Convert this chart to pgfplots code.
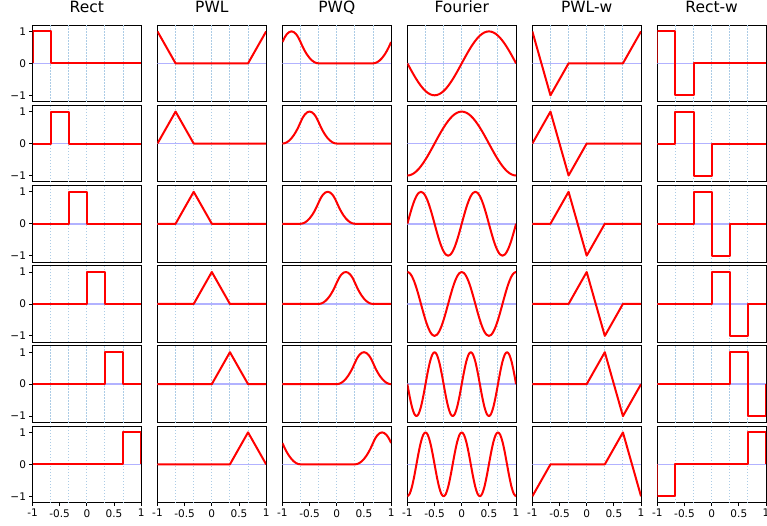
\documentclass[border=0pt]{standalone}
\usepackage{fontspec}
\setmainfont{DejaVu Sans}
\usepackage{pgfplots}
\usepackage{pgfplotstable}
\pgfplotsset{compat=1.18}
\usepgfplotslibrary{groupplots}
\definecolor{zlc}{RGB}{178,178,255}
\definecolor{grc}{RGB}{172,204,230}

\pgfplotstableread{
x f0 f1 f2 f3 f4 f5
-1 0 -1 0 1 0 -1
-0.9583 -.1305 -.9914 .2588 .9659 -.3827 -.9239
-0.9167 -.2588 -.9659 .5 .866 -.7071 -.7071
-0.875 -.3827 -.9239 .7071 .7071 -.9239 -.3827
-0.8333 -.5 -.866 .866 .5 -1 0
-0.7917 -.6088 -.7934 .9659 .2588 -.9239 .3827
-0.75 -.7071 -.7071 1 0 -.7071 .7071
-0.7083 -.7934 -.6088 .9659 -.2588 -.3827 .9239
-0.6667 -.866 -.5 .866 -.5 0 1
-0.625 -.9239 -.3827 .7071 -.7071 .3827 .9239
-0.5833 -.9659 -.2588 .5 -.866 .7071 .7071
-0.5417 -.9914 -.1305 .2588 -.9659 .9239 .3827
-0.5 -1 0 0 -1 1 0
-0.4583 -.9914 .1305 -.2588 -.9659 .9239 -.3827
-0.4167 -.9659 .2588 -.5 -.866 .7071 -.7071
-0.375 -.9239 .3827 -.7071 -.7071 .3827 -.9239
-0.3333 -.866 .5 -.866 -.5 0 -1
-0.2917 -.7934 .6088 -.9659 -.2588 -.3827 -.9239
-0.25 -.7071 .7071 -1 0 -.7071 -.7071
-0.2083 -.6088 .7934 -.9659 .2588 -.9239 -.3827
-0.1667 -.5 .866 -.866 .5 -1 0
-0.125 -.3827 .9239 -.7071 .7071 -.9239 .3827
-0.0833 -.2588 .9659 -.5 .866 -.7071 .7071
-0.0417 -.1305 .9914 -.2588 .9659 -.3827 .9239
0 0 1 0 1 0 1
0.0417 .1305 .9914 .2588 .9659 .3827 .9239
0.0833 .2588 .9659 .5 .866 .7071 .7071
0.125 .3827 .9239 .7071 .7071 .9239 .3827
0.1667 .5 .866 .866 .5 1 0
0.2083 .6088 .7934 .9659 .2588 .9239 -.3827
0.25 .7071 .7071 1 0 .7071 -.7071
0.2917 .7934 .6088 .9659 -.2588 .3827 -.9239
0.3333 .866 .5 .866 -.5 0 -1
0.375 .9239 .3827 .7071 -.7071 -.3827 -.9239
0.4167 .9659 .2588 .5 -.866 -.7071 -.7071
0.4583 .9914 .1305 .2588 -.9659 -.9239 -.3827
0.5 1 0 0 -1 -1 0
0.5417 .9914 -.1305 -.2588 -.9659 -.9239 .3827
0.5833 .9659 -.2588 -.5 -.866 -.7071 .7071
0.625 .9239 -.3827 -.7071 -.7071 -.3827 .9239
0.6667 .866 -.5 -.866 -.5 0 1
0.7083 .7934 -.6088 -.9659 -.2588 .3827 .9239
0.75 .7071 -.7071 -1 0 .7071 .7071
0.7917 .6088 -.7934 -.9659 .2588 .9239 .3827
0.8333 .5 -.866 -.866 .5 1 0
0.875 .3827 -.9239 -.7071 .7071 .9239 -.3827
0.9167 .2588 -.9659 -.5 .866 .7071 -.7071
0.9583 .1305 -.9914 -.2588 .9659 .3827 -.9239
1 0 -1 0 1 0 -1
}\fourier

\pgfplotstableread{
x q0 q1 q2 q3 q4 q5
-1 .6667 0 0 0 0 .6667
-0.9583 .8125 .0104 0 0 0 .5104
-0.9167 .9167 .0417 0 0 0 .375
-0.875 .9792 .0938 0 0 0 .2604
-0.8333 1 .1667 0 0 0 .1667
-0.7917 .9792 .2604 0 0 0 .0938
-0.75 .9167 .375 0 0 0 .0417
-0.7083 .8125 .5104 0 0 0 .0104
-0.6667 .6667 .6667 0 0 0 0
-0.625 .5104 .8125 .0104 0 0 0
-0.5833 .375 .9167 .0417 0 0 0
-0.5417 .2604 .9792 .0938 0 0 0
-0.5 .1667 1 .1667 0 0 0
-0.4583 .0938 .9792 .2604 0 0 0
-0.4167 .0417 .9167 .375 0 0 0
-0.375 .0104 .8125 .5104 0 0 0
-0.3333 0 .6667 .6667 0 0 0
-0.2917 0 .5104 .8125 .0104 0 0
-0.25 0 .375 .9167 .0417 0 0
-0.2083 0 .2604 .9792 .0938 0 0
-0.1667 0 .1667 1 .1667 0 0
-0.125 0 .0938 .9792 .2604 0 0
-0.0833 0 .0417 .9167 .375 0 0
-0.0417 0 .0104 .8125 .5104 0 0
0 0 0 .6667 .6667 0 0
0.0417 0 0 .5104 .8125 .0104 0
0.0833 0 0 .375 .9167 .0417 0
0.125 0 0 .2604 .9792 .0938 0
0.1667 0 0 .1667 1 .1667 0
0.2083 0 0 .0938 .9792 .2604 0
0.25 0 0 .0417 .9167 .375 0
0.2917 0 0 .0104 .8125 .5104 0
0.3333 0 0 0 .6667 .6667 0
0.375 0 0 0 .5104 .8125 .0104
0.4167 0 0 0 .375 .9167 .0417
0.4583 0 0 0 .2604 .9792 .0938
0.5 0 0 0 .1667 1 .1667
0.5417 0 0 0 .0938 .9792 .2604
0.5833 0 0 0 .0417 .9167 .375
0.625 0 0 0 .0104 .8125 .5104
0.6667 0 0 0 0 .6667 .6667
0.7083 .0104 0 0 0 .5104 .8125
0.75 .0417 0 0 0 .375 .9167
0.7917 .0938 0 0 0 .2604 .9792
0.8333 .1667 0 0 0 .1667 1
0.875 .2604 0 0 0 .0938 .9792
0.9167 .375 0 0 0 .0417 .9167
0.9583 .5104 0 0 0 .0104 .8125
1 .6667 0 0 0 0 .6667
}\pwq

\pgfplotsset{
  zline/.style={color=zlc, line width=1.6pt, forget plot},
  redline/.style={draw=red, line width=2pt, solid, line join=round},
  lft/.style={ytick={-1,0,1}, yticklabels={−1,0,1}},
  bot/.style={xtick={-1,-0.5,0,0.5,1}, xticklabels={-1,-0.5,0,0.5,1}},
}
\newcommand\zeroline{\addplot[zline] coordinates {(-1,0) (1,0)};}

\begin{document}
\begin{tikzpicture}
\begin{groupplot}[
  group style={group name=G, group size=6 by 6, horizontal sep=16.26pt, vertical sep=3.5pt},
  scale only axis, width=108.7pt, height=76.7pt,
  xmin=-1, xmax=1, ymin=-1.2, ymax=1.2,
  xtick=\empty, ytick=\empty, tick pos=left,
  extra x ticks={-0.6667,-0.3333,0,0.3333,0.6667},
  extra x tick labels={,,,,},
  extra x tick style={grid=major, major tick length=0pt},
  major grid style={color=grc, line width=1pt, dash pattern=on 1.2pt off 1.8pt},
  tick align=outside, major tick length=3pt,
  tick style={black, line width=0.9pt},
  axis line style={line width=0.9pt},
  ticklabel style={font=\fontsize{10.5}{12}\selectfont},
  title style={font=\fontsize{15.5}{18}\selectfont, anchor=base, yshift=6pt},
]
% ---- row 1
\nextgroupplot[title=Rect, lft]
\zeroline \addplot[redline] coordinates {(-1,0) (-1,1) (-0.6667,1) (-0.6667,0) (1,0)};
\nextgroupplot[title=PWL]
\zeroline \addplot[redline] coordinates {(-1,1) (-0.6667,0) (0.6667,0) (1,1)};
\nextgroupplot[title=PWQ]
\zeroline \addplot[redline, smooth] table[x=x,y=q0]{\pwq};
\nextgroupplot[title=Fourier]
\zeroline \addplot[redline, smooth] table[x=x,y=f0]{\fourier};
\nextgroupplot[title=PWL-w]
\zeroline \addplot[redline] coordinates {(-1,1) (-0.6667,-1) (-0.3333,0) (0.6667,0) (1,1)};
\nextgroupplot[title=Rect-w]
\zeroline \addplot[redline] coordinates {(-1,0) (-1,1) (-0.6667,1) (-0.6667,-1) (-0.3333,-1) (-0.3333,0) (1,0)};
% ---- row 2
\nextgroupplot[lft]
\zeroline \addplot[redline] coordinates {(-1,0) (-0.6667,0) (-0.6667,1) (-0.3333,1) (-0.3333,0) (1,0)};
\nextgroupplot
\zeroline \addplot[redline] coordinates {(-1,0) (-0.6667,1) (-0.3333,0) (1,0)};
\nextgroupplot
\zeroline \addplot[redline, smooth] table[x=x,y=q1]{\pwq};
\nextgroupplot
\zeroline \addplot[redline, smooth] table[x=x,y=f1]{\fourier};
\nextgroupplot
\zeroline \addplot[redline] coordinates {(-1,0) (-0.6667,1) (-0.3333,-1) (0,0) (1,0)};
\nextgroupplot
\zeroline \addplot[redline] coordinates {(-1,0) (-0.6667,0) (-0.6667,1) (-0.3333,1) (-0.3333,-1) (0,-1) (0,0) (1,0)};
% ---- row 3
\nextgroupplot[lft]
\zeroline \addplot[redline] coordinates {(-1,0) (-0.3333,0) (-0.3333,1) (0,1) (0,0) (1,0)};
\nextgroupplot
\zeroline \addplot[redline] coordinates {(-1,0) (-0.6667,0) (-0.3333,1) (0,0) (1,0)};
\nextgroupplot
\zeroline \addplot[redline, smooth] table[x=x,y=q2]{\pwq};
\nextgroupplot
\zeroline \addplot[redline, smooth] table[x=x,y=f2]{\fourier};
\nextgroupplot
\zeroline \addplot[redline] coordinates {(-1,0) (-0.6667,0) (-0.3333,1) (0,-1) (0.3333,0) (1,0)};
\nextgroupplot
\zeroline \addplot[redline] coordinates {(-1,0) (-0.3333,0) (-0.3333,1) (0,1) (0,-1) (0.3333,-1) (0.3333,0) (1,0)};
% ---- row 4
\nextgroupplot[lft]
\zeroline \addplot[redline] coordinates {(-1,0) (0,0) (0,1) (0.3333,1) (0.3333,0) (1,0)};
\nextgroupplot
\zeroline \addplot[redline] coordinates {(-1,0) (-0.3333,0) (0,1) (0.3333,0) (1,0)};
\nextgroupplot
\zeroline \addplot[redline, smooth] table[x=x,y=q3]{\pwq};
\nextgroupplot
\zeroline \addplot[redline, smooth] table[x=x,y=f3]{\fourier};
\nextgroupplot
\zeroline \addplot[redline] coordinates {(-1,0) (-0.3333,0) (0,1) (0.3333,-1) (0.6667,0) (1,0)};
\nextgroupplot
\zeroline \addplot[redline] coordinates {(-1,0) (0,0) (0,1) (0.3333,1) (0.3333,-1) (0.6667,-1) (0.6667,0) (1,0)};
% ---- row 5
\nextgroupplot[lft]
\zeroline \addplot[redline] coordinates {(-1,0) (0.3333,0) (0.3333,1) (0.6667,1) (0.6667,0) (1,0)};
\nextgroupplot
\zeroline \addplot[redline] coordinates {(-1,0) (0,0) (0.3333,1) (0.6667,0) (1,0)};
\nextgroupplot
\zeroline \addplot[redline, smooth] table[x=x,y=q4]{\pwq};
\nextgroupplot
\zeroline \addplot[redline, smooth] table[x=x,y=f4]{\fourier};
\nextgroupplot
\zeroline \addplot[redline] coordinates {(-1,0) (0,0) (0.3333,1) (0.6667,-1) (1,0)};
\nextgroupplot
\zeroline \addplot[redline] coordinates {(-1,0) (0.3333,0) (0.3333,1) (0.6667,1) (0.6667,-1) (1,-1) (1,0)};
% ---- row 6
\nextgroupplot[lft, bot]
\zeroline \addplot[redline] coordinates {(-1,0) (0.6667,0) (0.6667,1) (1,1) (1,0)};
\nextgroupplot[bot]
\zeroline \addplot[redline] coordinates {(-1,0) (0.3333,0) (0.6667,1) (1,0)};
\nextgroupplot[bot]
\zeroline \addplot[redline, smooth] table[x=x,y=q5]{\pwq};
\nextgroupplot[bot]
\zeroline \addplot[redline, smooth] table[x=x,y=f5]{\fourier};
\nextgroupplot[bot]
\zeroline \addplot[redline] coordinates {(-1,-1) (-0.6667,0) (0.3333,0) (0.6667,1) (1,-1)};
\nextgroupplot[bot]
\zeroline \addplot[redline] coordinates {(-1,0) (-1,-1) (-0.6667,-1) (-0.6667,0) (0.6667,0) (0.6667,1) (1,1) (1,0)};
\end{groupplot}
\pgfresetboundingbox
\path[use as bounding box] ([xshift=-32.5pt,yshift=25pt]G c1r1.north west) rectangle ([xshift=1pt,yshift=-22.3pt]G c6r6.south east);
\end{tikzpicture}
\end{document}
